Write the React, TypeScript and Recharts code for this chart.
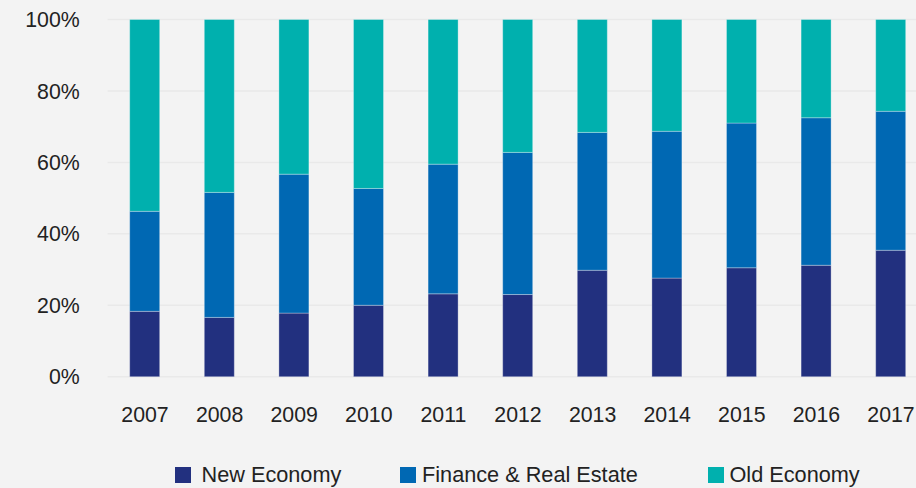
import { Bar, BarChart, CartesianGrid, XAxis, YAxis } from "recharts";

const years = ["2007", "2008", "2009", "2010", "2011", "2012", "2013", "2014", "2015", "2016", "2017"];
const newEconomy = [18.3, 16.6, 17.8, 20.0, 23.2, 23.0, 29.8, 27.6, 30.5, 31.2, 35.4];
const financeRealEstate = [28.0, 35.0, 38.9, 32.7, 36.3, 39.8, 38.6, 41.1, 40.5, 41.3, 38.9];
const oldEconomy = [53.7, 48.4, 43.3, 47.3, 40.5, 37.2, 31.6, 31.3, 29.0, 27.5, 25.7];
const yTicks = [0, 20, 40, 60, 80, 100];

const series = [
  { key: "newEconomy", name: "New Economy", color: "#22307f" },
  { key: "finance", name: "Finance & Real Estate", color: "#0068b3" },
  { key: "oldEconomy", name: "Old Economy", color: "#00b0ae" },
];

const data = years.map((year, i) => ({
  year,
  newEconomy: newEconomy[i],
  finance: financeRealEstate[i],
  oldEconomy: oldEconomy[i],
}));

const FONT = "'Liberation Sans', Arial, sans-serif";
// legend layout: swatch left edge, gap to label
const legendLeft = [175, 400, 708];
const legendGap = [10.5, 6, 5.5];

export default function App() {
  return (
    <div
      style={{
        position: "absolute",
        left: 0,
        top: 0,
        width: 916,
        height: 488,
        overflow: "hidden",
        background: "#f3f3f3",
        fontFamily: FONT,
      }}
    >
      <BarChart
        width={940}
        height={488}
        data={data}
        margin={{ top: 19.5, right: 11.7, left: 0, bottom: 51.3 }}
      >
        <CartesianGrid vertical={false} stroke="#e9e9e9" strokeWidth={1.5} />
        <XAxis
          dataKey="year"
          height={60}
          axisLine={false}
          tickLine={false}
          tickSize={0}
          tickMargin={30}
          interval={0}
          tick={{ fill: "#222", fontSize: 21.3, fontFamily: FONT }}
        />
        <YAxis
          width={107.7}
          domain={[0, 100]}
          ticks={yTicks}
          axisLine={false}
          tickLine={false}
          tickSize={0}
          tickMargin={28}
          tickFormatter={(v) => `${v}%`}
          tick={{ fill: "#222", fontSize: 21.3, fontFamily: FONT }}
        />
        {series.map((s) => (
          <Bar
            key={s.key}
            dataKey={s.key}
            name={s.name}
            stackId="a"
            fill={s.color}
            stroke="rgba(255,255,255,0.3)"
            strokeWidth={1}
            barSize={30}
            isAnimationActive={false}
          />
        ))}
      </BarChart>
      {series.map((s, i) => (
        <div
          key={s.key}
          style={{
            position: "absolute",
            left: legendLeft[i],
            top: 462.8,
            height: 24,
            display: "flex",
            alignItems: "flex-start",
          }}
        >
          <span
            style={{
              width: 16,
              height: 16,
              marginTop: 3.9,
              background: s.color,
              display: "inline-block",
              flexShrink: 0,
            }}
          />
          <span
            style={{
              marginLeft: legendGap[i],
              fontSize: 21.7,
              lineHeight: "24px",
              color: "#222",
              whiteSpace: "nowrap",
            }}
          >
            {s.name}
          </span>
        </div>
      ))}
    </div>
  );
}
